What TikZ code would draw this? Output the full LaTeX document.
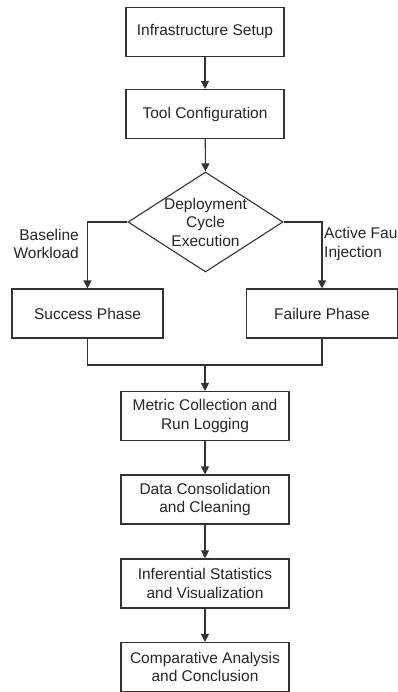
\documentclass[tikz,border=0pt]{standalone}
\usepackage{fontspec}
\setmainfont{Liberation Sans}
\usetikzlibrary{shapes.geometric,arrows.meta}
\begin{document}
\begin{tikzpicture}[x=1pt,y=-1pt,
  txt/.style={font=\fontsize{15.5}{18.5}\selectfont, text=black!85, align=center},
  box/.style={txt, draw=black!80, line width=1.1pt, minimum height=49pt, inner sep=2pt},
  topbox/.style={box, minimum width=158pt},
  midbox/.style={box, minimum width=151pt},
  lowbox/.style={box, minimum width=168pt},
  dec/.style={draw=black!80, line width=1.1pt, shape=diamond, minimum width=155pt, minimum height=100pt, inner sep=0pt},
  lbl/.style={font=\fontsize{15.5}{18.5}\selectfont, text=black!85, inner sep=0pt},
  conn/.style={draw=black!80, line width=1.1pt},
  arr/.style={conn, -{Triangle[width=8pt,length=8pt]}}
]
\useasboundingbox (0,0) rectangle (397,692);
\fill[white] (0,0) rectangle (397,692);

\node[topbox] (infra) at (205,32) {Infrastructure Setup};
\node[topbox] (tool) at (205,114) {Tool Configuration};
\node[dec] (deploy) at (205.5,222) {};
\node[txt, inner sep=0pt] (deploytxt) at (205.5,222) {Deployment\\Cycle\\Execution};
\node[midbox] (succ) at (87.5,313.5) {Success Phase};
\node[midbox] (fail) at (322,313.5) {Failure Phase};
\node[lowbox] (metric) at (205,416) {Metric Collection and\\Run Logging};
\node[lowbox] (data) at (205,499.5) {Data Consolidation\\and Cleaning};
\node[lowbox] (infer) at (205,583.5) {Inferential Statistics\\and Visualization};
\node[lowbox] (comp) at (205,667) {Comparative Analysis\\and Conclusion};

\node[lbl, anchor=east, align=right] (lbase) at (79,244) {Baseline\\Workload};
\node[lbl, anchor=west, align=left] (lfault) at (324,244) {Active Fault\\Injection};

\coordinate (merge) at (205,365);

\draw[arr] (infra) -- (tool);
\draw[arr] (tool) -- (deploy.north);
\draw[arr] (deploy.west) -| (succ.north);
\draw[arr] (deploy.east) -| (fail.north);
\draw[conn] (succ.south) |- (merge) -| (fail.south);
\draw[arr] (merge) -- (metric.north);
\draw[arr] (metric) -- (data);
\draw[arr] (data) -- (infer);
\draw[arr] (infer) -- (comp);
\end{tikzpicture}
\end{document}
